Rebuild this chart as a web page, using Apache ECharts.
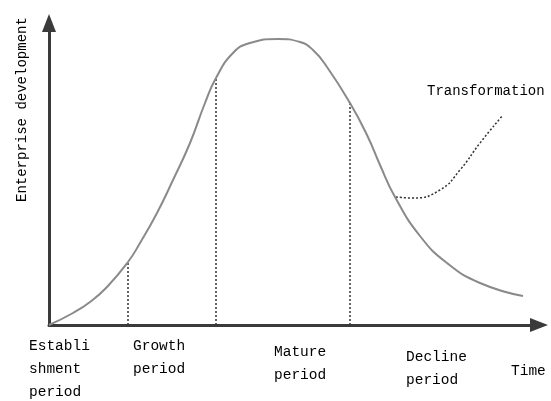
<!DOCTYPE html>
<html>
<head>
<meta charset="utf-8">
<script src="https://cdn.jsdelivr.net/npm/echarts@6/dist/echarts.min.js"></script>
<style>
  html, body { margin: 0; padding: 0; background: #fff; }
  #chart { width: 551px; height: 401px; }
</style>
</head>
<body>
<div id="chart"></div>
<script>
  // life cycle curve, x = time, y = development
  var lifeCurve = [
    [0, 0], [24, 12], [41, 23], [58, 38], [79, 63], [91, 82], [108, 112],
    [124, 145], [141, 182], [156, 222], [167, 247], [184, 272], [201, 282],
    [229, 286], [251, 283], [264, 275], [278, 258], [301, 222], [318, 190],
    [331, 160], [346, 128], [371, 89], [398, 62], [431, 42], [474, 29]
  ];
  // dotted branch after the decline
  var transformCurve = [[347, 128], [364, 127], [391, 135], [411, 155], [431, 182], [454, 210]];
  // stage boundaries (x) and the curve height at each
  var boundaryX = [79, 167, 301];
  var boundaryY = [63, 247, 222];
  var stageNames = ['Establi\nshment\nperiod', 'Growth\nperiod', 'Mature\nperiod', 'Decline\nperiod'];
  var xName = 'Time';
  var yName = 'Enterprise development';
  var transformName = 'Transformation';

  var chart = echarts.init(document.getElementById('chart'));
  var font = '"Liberation Mono", monospace';

  var series = [{
    type: 'line',
    data: lifeCurve,
    smooth: 0.5,
    symbol: 'none',
    lineStyle: { color: '#8a8a8a', width: 2 },
    z: 3
  }, {
    type: 'line',
    data: transformCurve,
    smooth: 0.5,
    symbol: 'none',
    lineStyle: { color: '#333', width: 1.5, type: [2, 2] },
    z: 2
  }];
  boundaryX.forEach(function (x, i) {
    series.push({
      type: 'line',
      data: [[x, 0], [x, boundaryY[i]]],
      symbol: 'none',
      lineStyle: { color: '#333', width: 1.5, type: [2, 2] },
      z: 2
    });
  });

  var textStyle = { fill: '#000', font: '14.5px ' + font, lineHeight: 23 };
  var stagePos = [[29, 335], [133, 335], [274, 341], [406, 346]];
  var graphics = stageNames.map(function (s, i) {
    return {
      type: 'text', left: stagePos[i][0], top: stagePos[i][1],
      style: Object.assign({ text: s }, textStyle)
    };
  });
  graphics.push({ type: 'text', left: 511, top: 360, style: Object.assign({ text: xName }, textStyle) });
  graphics.push({ type: 'text', left: 427, top: 80, style: Object.assign({ text: transformName }, textStyle, { font: '14px ' + font }) });
  graphics.push({
    type: 'text', x: 11, y: 202, rotation: Math.PI / 2,
    style: Object.assign({ text: yName }, textStyle, { font: '14px ' + font })
  });

  chart.setOption({
    animation: false,
    grid: { left: 49, top: 23, right: 12, bottom: 76 },
    xAxis: {
      type: 'value', min: 0, max: 490,
      axisLine: { lineStyle: { color: '#3a3a3a', width: 3 }, symbol: ['none', 'triangle'], symbolSize: [14, 18] },
      axisTick: { show: false }, axisLabel: { show: false }, splitLine: { show: false }
    },
    yAxis: {
      type: 'value', min: 0, max: 302,
      axisLine: { show: true, lineStyle: { color: '#3a3a3a', width: 3 }, symbol: ['none', 'triangle'], symbolSize: [14, 18] },
      axisTick: { show: false }, axisLabel: { show: false }, splitLine: { show: false }
    },
    series: series,
    graphic: graphics
  });
</script>
</body>
</html>
